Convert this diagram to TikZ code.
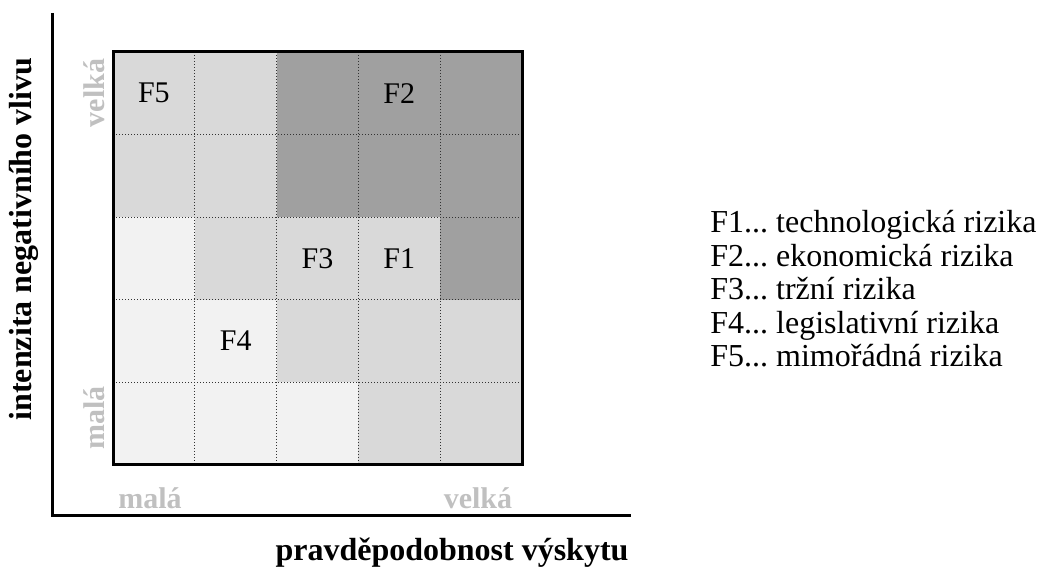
\documentclass[tikz,border=0pt]{standalone}
\usepackage{fontspec}
\setmainfont{Liberation Serif}
\frenchspacing
\definecolor{cL}{HTML}{F2F2F2}
\definecolor{cM}{HTML}{D9D9D9}
\definecolor{cD}{HTML}{A0A0A0}
\definecolor{lbl}{HTML}{C0C0C0}
\begin{document}
\begin{tikzpicture}[x=0.5pt,y=-0.5pt,
  griddot/.style={densely dotted,line width=0.5pt,black!80},
  thick line/.style={line width=1.5pt},
  celltext/.style={font=\fontsize{15}{18}\selectfont,inner sep=0pt},
  graylabel/.style={font=\fontsize{15}{18}\selectfont\bfseries,text=lbl,inner sep=0pt},
  axislabel/.style={font=\fontsize{16}{19}\selectfont\bfseries,inner sep=0pt},
  legend/.style={font=\fontsize{16}{19}\selectfont,inner sep=0pt,anchor=base west}]
\useasboundingbox (0,0) rectangle (1040,571);
\def\cw{81.8}\def\ch{82.6}
\foreach \r/\cols in {0/{cM,cM,cD,cD,cD},1/{cM,cM,cD,cD,cD},2/{cL,cM,cM,cM,cD},3/{cL,cL,cM,cM,cM},4/{cL,cL,cL,cM,cM}}{
  \foreach \cc [count=\c from 0] in \cols {
    \fill[\cc] (113+\c*\cw,52+\r*\ch) rectangle ++(\cw,\ch);
  }
}
\foreach \i in {1,...,4}{
  \draw[griddot] (113+\i*\cw,52) -- (113+\i*\cw,465);
  \draw[griddot] (113,52+\i*\ch) -- (522,52+\i*\ch);
}
\draw[thick line] (113,52) rectangle (522,465);
% cell labels
\node[celltext] (f5) at (113+0.5*\cw,52+0.5*\ch) {F5};
\node[celltext] (f2) at (113+3.5*\cw,52+0.5*\ch) {F2};
\node[celltext] (f3) at (113+2.5*\cw,52+2.5*\ch) {F3};
\node[celltext] (f1) at (113+3.5*\cw,52+2.5*\ch) {F1};
\node[celltext] (f4) at (113+1.5*\cw,52+3.5*\ch) {F4};
% axes
\coordinate (atop) at (52,13);
\coordinate (acorner) at (52,516);
\coordinate (aend) at (631,516);
\draw[thick line] (atop) -- (acorner) -- (aend);
% axis labels
\node[axislabel,rotate=90] (ylab) at (24,239) {intenzita negativního vlivu};
\node[axislabel] (xlab) at (452,553) {pravděpodobnost výskytu};
\node[graylabel,rotate=90] (yhi) at (94,93) {velká};
\node[graylabel,rotate=90] (ylo) at (94,418) {malá};
\node[graylabel] (xlo) at (150,498) {malá};
\node[graylabel] (xhi) at (478,498) {velká};
% legend
\node[legend] (l1) at (710,233) {F1... technologická rizika};
\node[legend] (l2) at (710,266.5) {F2... ekonomická rizika};
\node[legend] (l3) at (710,300) {F3... tržní rizika};
\node[legend] (l4) at (710,333.5) {F4... legislativní rizika};
\node[legend] (l5) at (710,367) {F5... mimořádná rizika};
\end{tikzpicture}
\end{document}
